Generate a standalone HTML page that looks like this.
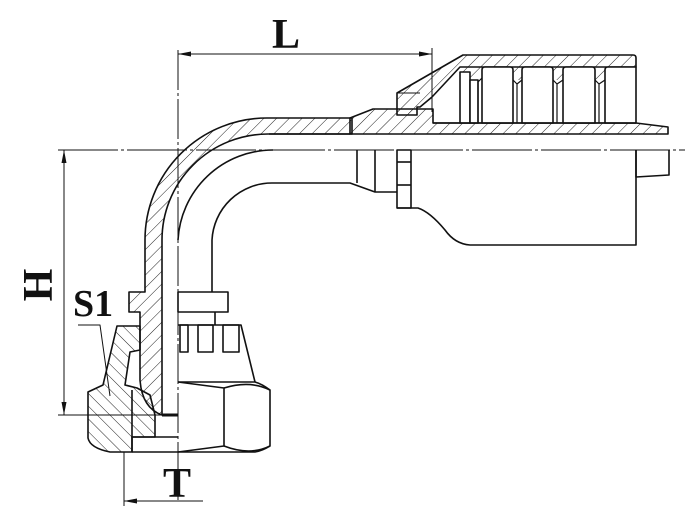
<!DOCTYPE html>
<html><head><meta charset="utf-8"><style>
html,body{margin:0;padding:0;background:#fff}
svg{display:block}
text{font-family:"Liberation Serif",serif;font-weight:bold;fill:#111}
</style></head><body>
<svg width="690" height="515" viewBox="0 0 690 515" xmlns="http://www.w3.org/2000/svg">
<defs>
<pattern id="h" patternUnits="userSpaceOnUse" width="9" height="9" patternTransform="rotate(45)">
<line x1="0" y1="0" x2="0" y2="9" stroke="#222" stroke-width="1"/>
</pattern>
<pattern id="h2" patternUnits="userSpaceOnUse" width="9" height="9" patternTransform="rotate(-45)">
<line x1="0" y1="0" x2="0" y2="9" stroke="#222" stroke-width="1"/>
</pattern>
</defs>
<g fill="none" stroke="#111" stroke-width="1.6" stroke-linejoin="round">
<!-- elbow wall hatched -->
<path fill="url(#h)" d="M352,118 H267 A122 122 0 0 0 145 240 V292 H129 V312 H140 V380 Q142 408 162 415 V240 A106 106 0 0 1 268 134 H352 Z"/>
<!-- body wall hatched -->
<path fill="url(#h)" d="M350,118 L373,109 H433 V123 H636 L668,127 V134 H350 Z"/>
<!-- socket with bump -->
<path fill="url(#h)" d="M397,93 L463,55 H633 Q636,55 636,58 V67 H460 L432,97 L420,107 H417 V115 H397 Z"/>
<line x1="397" y1="93" x2="420" y2="93" stroke-width="1"/>
<!-- teeth -->
<path fill="url(#h)" d="M460,67 H636 V80 H460 Z" stroke="none"/>
<rect x="460" y="72" width="10" height="51" fill="#fff"/>
<rect x="470" y="80" width="8" height="43" fill="#fff"/>
<path fill="#fff" d="M482,123 V70 Q482,67 485,67 H510 Q513,67 513,70 V123 Z"/>
<path fill="#fff" d="M522,123 V70 Q522,67 525,67 H550 Q553,67 553,70 V123 Z"/>
<path fill="#fff" d="M563,123 V70 Q563,67 566,67 H592 Q595,67 595,70 V123 Z"/>
<path fill="#fff" d="M605,123 V70 Q605,67 608,67 H636 V123 Z"/>
<path d="M478,123 V82 L482,78 M513,80 L517,84 V123 M517,84 L522,80 M553,80 L557,84 V123 M557,84 L563,80 M595,80 L599,84 V123 M599,84 L605,80" stroke-width="1.2"/>
<line x1="433" y1="123" x2="636" y2="123"/>
<line x1="269" y1="134" x2="350" y2="134"/>
<!-- bore -->
<path d="M178,240 A95 95 0 0 1 273 150"/>
<path d="M212,292 V240 A60 60 0 0 1 272 183 H350 L375,192 H397"/>
<path d="M357,150 V183 M375,150 V192"/>
<!-- nut on lower side -->
<rect x="397" y="150" width="14" height="58"/>
<line x1="397" y1="162" x2="411" y2="162"/><line x1="397" y1="185" x2="411" y2="185"/>
<path d="M397,208 H418 Q430 212 445 230 Q455 244 470 245 H636 V150"/>
<path d="M636,150 V177 L669,175 V150"/>
<!-- right flange -->
<rect x="178" y="292" width="50" height="20"/>
<line x1="215" y1="312" x2="215" y2="325"/>
<!-- right nut -->
<path d="M178,325 H241 L255,382"/>
<rect x="180" y="325" width="8" height="27"/><rect x="198" y="325" width="15" height="27"/><rect x="223" y="325" width="16" height="27"/>
<path d="M178,382 H255 Q262 384 270 390 V446 Q262 451 255 452 H178"/>
<path d="M178,382 L224,388 V446 L178,452"/>
<path d="M224,388 Q250 380 270 390 M224,446 Q250 456 270 446"/>
<!-- left nut hatched -->
<path fill="url(#h2)" d="M117,326 H140 V350 L130,352 L125,385 L137,388 L150,395 L155,415 V437 H132 V452 H110 Q90 448 88 438 V392 L103,385 Z"/>
<path d="M132,437 H178 M132,452 H178 M132,390 V452"/>
<line x1="162" y1="415" x2="178" y2="415" stroke-width="3"/>
<!-- dimensions -->
<g stroke-width="1">
<line x1="178" y1="50" x2="178" y2="500" stroke-dasharray="40 3 3 3"/>
<line x1="58" y1="150" x2="685" y2="150" stroke-dasharray="60 3 3 3"/>
<line x1="178" y1="54" x2="432" y2="54"/>
<line x1="432" y1="48" x2="432" y2="112"/>
<line x1="64" y1="150" x2="64" y2="415"/>
<line x1="58" y1="415" x2="178" y2="415"/>
<line x1="124" y1="452" x2="124" y2="506"/>
<line x1="124" y1="501" x2="203" y2="501"/>
<path d="M78,325 H100 L110,396"/>
</g>
<path fill="#111" stroke="none" d="M178,54 l13,-2.5 v5 Z M432,54 l-13,-2.5 v5 Z M64,150 l-2.5,13 h5 Z M64,415 l-2.5,-13 h5 Z M124,501 l13,-2.5 v5 Z"/>
</g>
<text x="272" y="48" font-size="42">L</text>
<text x="163" y="497" font-size="42">T</text>
<text x="73" y="316" font-size="38">S1</text>
<text transform="translate(52,285) rotate(-90)" font-size="42" text-anchor="middle">H</text>
</svg>
</body></html>
